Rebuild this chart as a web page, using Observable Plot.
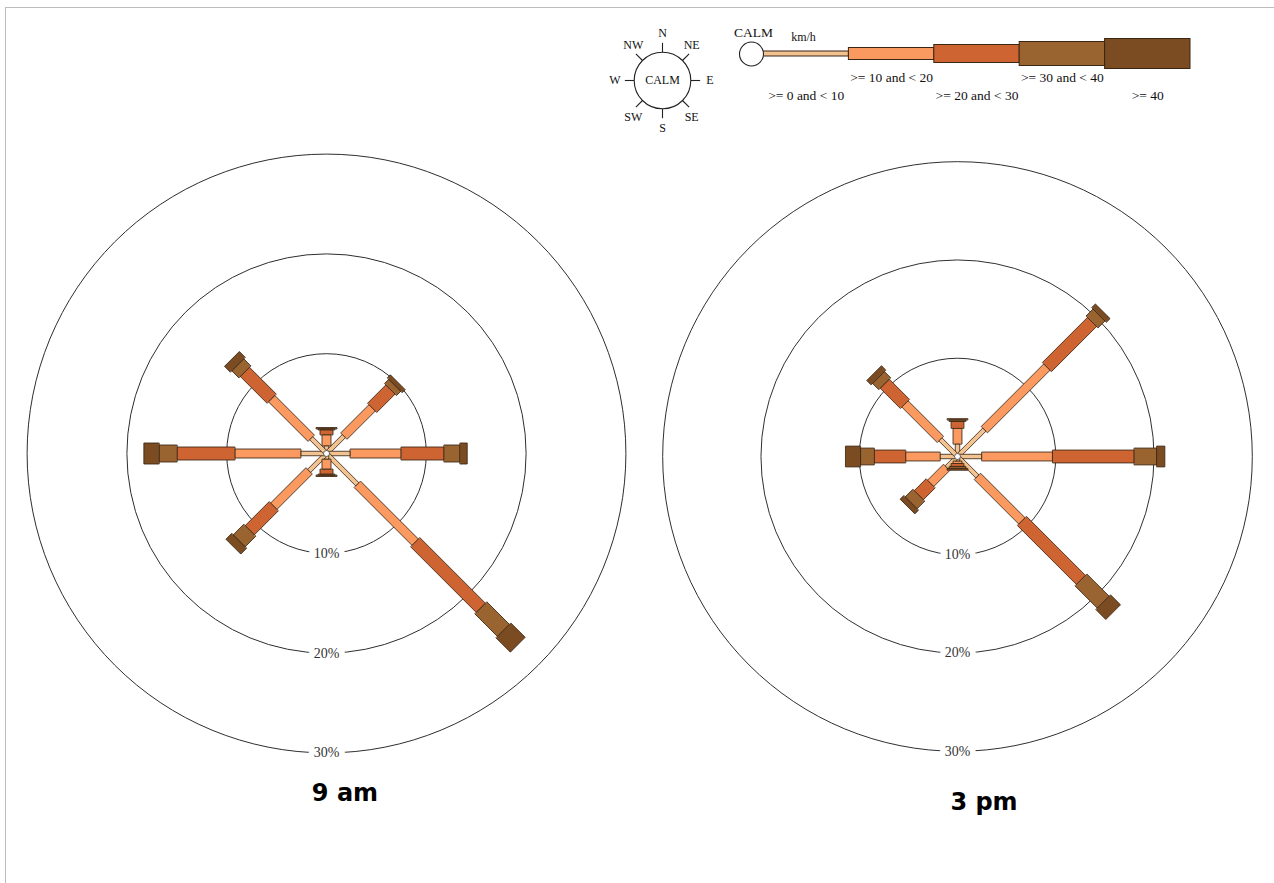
<!DOCTYPE html>
<html><head><meta charset="utf-8">
<script src="https://cdn.jsdelivr.net/npm/d3@7"></script>
<script src="https://cdn.jsdelivr.net/npm/@observablehq/plot@0.6"></script>
<style>
html,body{margin:0;padding:0;background:#fff;}
body{width:1274px;height:883px;overflow:hidden;position:relative;font-family:"Liberation Serif",serif;}
#frame{position:absolute;left:5px;top:7px;width:1400px;height:1000px;border-top:1px solid #bdbdbd;border-left:1px solid #bdbdbd;}
.abs{position:absolute;}
.title{position:absolute;font-family:"DejaVu Sans",sans-serif;font-weight:bold;font-size:24px;line-height:24px;color:#000;transform:translateX(-50%);white-space:nowrap;}
</style></head><body>
<div id="frame"></div>
<div id="compass" class="abs"></div>
<div id="speedLegend" class="abs"></div>
<div id="rose9" class="abs"></div>
<div id="rose3" class="abs"></div>
<div id="t9" class="title" style="left:345px;top:781px;">9 am</div>
<div id="t3" class="title" style="left:984px;top:790px;">3 pm</div>
<script>
// ---------------- data ----------------
const directions = ["N", "NE", "E", "SE", "S", "SW", "W", "NW"];
const speedBands = [">= 0 and < 10", ">= 10 and < 20", ">= 20 and < 30", ">= 30 and < 40", ">= 40"];
const ringValues = [10, 20, 30];

// 9 am : % of observations per speed band (km/h), by direction N..NW
const am9Speed0to10  = [0.8, 2.5, 2.4, 4.4, 0.6, 2.5, 2.6, 2.2];
const am9Speed10to20 = [1.1, 4.0, 5.1, 8.2, 1.0, 5.0, 6.6, 5.6];
const am9Speed20to30 = [0.5, 2.6, 4.3, 9.3, 0.5, 3.4, 5.8, 3.8];
const am9Speed30to40 = [0.1, 0.6, 1.6, 3.2, 0.1, 1.5, 1.8, 1.0];
const am9Speed40plus = [0.1, 0.4, 0.7, 2.0, 0.1, 0.8, 1.5, 0.8];
const am9Calm = 0.3;

// 3 pm
const pm3Speed0to10  = [1.3, 3.9, 2.5, 2.9, 0.5, 1.6, 1.8, 2.5];
const pm3Speed10to20 = [1.6, 9.0, 7.2, 6.4, 0.25, 2.3, 3.5, 5.1];
const pm3Speed20to30 = [0.7, 6.5, 8.3, 8.5, 0.3, 1.7, 3.2, 2.9];
const pm3Speed30to40 = [0.15, 1.0, 2.3, 3.2, 0.2, 1.1, 1.4, 0.9];
const pm3Speed40plus = [0.1, 0.5, 0.8, 1.4, 0.15, 0.5, 1.5, 0.6];
const pm3Calm = 0.3;

// ---------------- styles ----------------
const bandFill = ["#f2c290", "#fa9a61", "#cd6431", "#9a6431", "#7b4b21"];
const bandStroke = "#3a2614";
const roseBarPx = [4.5, 9, 13, 17, 21];
const legendBarPx = [5, 12, 18, 24, 30];
const serif = "Liberation Serif";

function place(el, left, top) { el.style.left = left + "px"; el.style.top = top + "px"; }

function drawRose(id, bandArrays, calm, cx, cy, pxPerPct) {
  const size = 640;
  const h = size / 2 / pxPerPct;
  const rows = [];
  directions.forEach((dir, i) => {
    const th = i * Math.PI / 4;
    const ux = Math.sin(th), uy = Math.cos(th);
    const qx = Math.cos(th), qy = -Math.sin(th);
    let r0 = 0;
    bandArrays.forEach((arr, b) => {
      const r1 = r0 + arr[i];
      const hw = roseBarPx[b] / 2 / pxPerPct;
      for (const [r, w] of [[r0, hw], [r1, hw], [r1, -hw], [r0, -hw]]) {
        rows.push({id: dir, band: b, x: ux * r + qx * w, y: uy * r + qy * w});
      }
      r0 = r1;
    });
  });
  const marks = [
    Plot.dot(ringValues, {x: 0, y: 0, r: d => d, fill: "none", stroke: "#2e2e2e", strokeWidth: 1})
  ];
  bandArrays.forEach((arr, b) => {
    marks.push(Plot.line(rows.filter(d => d.band === b), {
      x: "x", y: "y", z: "id", curve: "linear-closed",
      fill: bandFill[b], stroke: bandStroke, strokeWidth: 0.85
    }));
  });
  marks.push(Plot.dot([calm], {x: 0, y: 0, r: d => d, fill: "white", stroke: "#444", strokeWidth: 0.8}));
  marks.push(Plot.text(ringValues, {
    x: 0, y: d => -d, text: d => `${d}%`, fill: "#333", stroke: "white", strokeWidth: 12,
    fontFamily: serif, fontSize: 14
  }));
  const svg = Plot.plot({
    width: size, height: size, margin: 0,
    x: {domain: [-h, h], range: [0, size], axis: null},
    y: {domain: [-h, h], range: [size, 0], axis: null},
    r: {type: "linear", domain: [0, h], range: [0, size / 2]},
    style: {background: "transparent", overflow: "visible"},
    marks
  });
  const el = document.getElementById(id);
  el.appendChild(svg);
  place(el, cx - size / 2, cy - size / 2);
}

function drawCompass() {
  const size = 130, pxPerUnit = 28.3, h = size / 2 / pxPerUnit;
  const ang = i => i * Math.PI / 4;
  // label placement (style): cardinals on a circle, diagonals slightly stretched vertically
  const labX = i => (i % 2 ? 1.03 * Math.sign(Math.sin(ang(i))) : 1.68 * Math.sin(ang(i)));
  const labY = i => (i % 2 ? (Math.cos(ang(i)) > 0 ? 1.24 : -1.3) : 1.68 * Math.cos(ang(i)));
  const svg = Plot.plot({
    width: size, height: size, margin: 0,
    x: {domain: [-h, h], range: [0, size], axis: null},
    y: {domain: [-h, h], range: [size, 0], axis: null},
    r: {type: "linear", domain: [0, h], range: [0, size / 2]},
    style: {background: "transparent", overflow: "visible"},
    marks: [
      Plot.link(directions, {
        x1: (d, i) => Math.sin(ang(i)), y1: (d, i) => Math.cos(ang(i)),
        x2: (d, i) => 1.33 * Math.sin(ang(i)), y2: (d, i) => 1.33 * Math.cos(ang(i)),
        stroke: "#222", strokeWidth: 1.1
      }),
      Plot.dot([1], {x: 0, y: 0, r: d => d, fill: "white", stroke: "#222", strokeWidth: 1.1}),
      Plot.text(["CALM"], {x: 0, y: 0, text: d => d, fontFamily: serif, fontSize: 12, fill: "#111"}),
      Plot.text(directions, {
        x: (d, i) => labX(i), y: (d, i) => labY(i),
        text: d => d, fontFamily: serif, fontSize: 12, fill: "#111"
      })
    ]
  });
  const el = document.getElementById("compass");
  el.appendChild(svg);
  place(el, 661.5 - size / 2, 80 - size / 2);
}

function drawSpeedLegend() {
  const width = 520, height = 95, barY = 33.5;
  const xr = [63, 490];
  const pxPerBand = (xr[1] - xr[0]) / 5;
  const calmR = 12;
  const marks = speedBands.map((lab, b) => Plot.rect([lab], {
    x1: b, x2: b + 1, y1: barY - legendBarPx[b] / 2, y2: barY + legendBarPx[b] / 2,
    fill: bandFill[b], stroke: bandStroke, strokeWidth: 1
  }));
  marks.push(Plot.dot(["CALM"], {x: -calmR / pxPerBand, y: barY, r: calmR, fill: "white", stroke: "#222", strokeWidth: 1.1}));
  marks.push(Plot.text(["CALM"], {x: -10 / pxPerBand, y: 12, text: d => d, fontFamily: serif, fontSize: 13.5, fill: "#111"}));
  marks.push(Plot.text(["km/h"], {x: 40 / pxPerBand, y: 16.5, text: d => d, fontFamily: serif, fontSize: 12, fill: "#111"}));
  marks.push(Plot.text(speedBands, {
    x: (d, i) => i + 0.5, y: (d, i) => (i % 2 ? 57 : 75.5), text: d => d,
    fontFamily: serif, fontSize: 13.5, fill: "#111"
  }));
  const svg = Plot.plot({
    width, height, margin: 0,
    x: {domain: [0, 5], range: xr, axis: null},
    y: {domain: [0, height], range: [0, height], axis: null},
    style: {background: "transparent", overflow: "visible"},
    marks
  });
  const el = document.getElementById("speedLegend");
  el.appendChild(svg);
  place(el, 700, 20);
}

drawCompass();
drawSpeedLegend();
drawRose("rose9", [am9Speed0to10, am9Speed10to20, am9Speed20to30, am9Speed30to40, am9Speed40plus], am9Calm, 325.5, 452.5, 9.98);
drawRose("rose3", [pm3Speed0to10, pm3Speed10to20, pm3Speed20to30, pm3Speed30to40, pm3Speed40plus], pm3Calm, 960, 458.5, 9.92);
</script>
</body></html>
